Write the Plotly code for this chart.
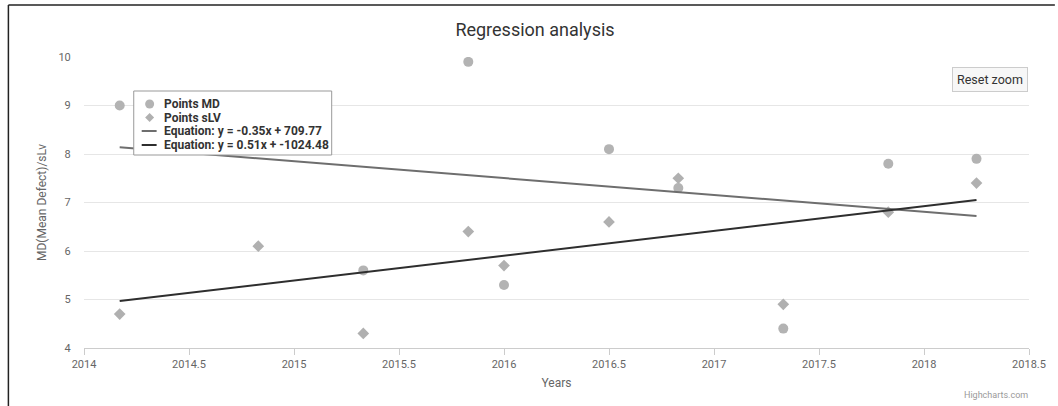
import plotly.graph_objects as go

# ---- data ----
md_years = [2014.17, 2015.33, 2015.83, 2016.0, 2016.5, 2016.83, 2017.33, 2017.83, 2018.25]
md_values = [9.0, 5.6, 9.9, 5.3, 8.1, 7.3, 4.4, 7.8, 7.9]

slv_years = [2014.17, 2014.83, 2015.33, 2015.83, 2016.0, 2016.5, 2016.83, 2017.33, 2017.83, 2018.25]
slv_values = [4.7, 6.1, 4.3, 6.4, 5.7, 6.6, 7.5, 4.9, 6.8, 7.4]

md_fit_years = [2014.17, 2018.25]
md_fit_values = [8.14, 6.72]
slv_fit_years = [2014.17, 2018.25]
slv_fit_values = [4.97, 7.05]

series_names = ["Points MD", "Points sLV",
                "Equation: y = -0.35x + 709.77", "Equation: y = 0.51x + -1024.48"]

x_ticks = [2014, 2014.5, 2015, 2015.5, 2016, 2016.5, 2017, 2017.5, 2018, 2018.5]
x_tick_labels = ["2014", "2014.5", "2015", "2015.5", "2016", "2016.5", "2017", "2017.5", "2018", "2018.5"]
y_ticks = [4, 5, 6, 7, 8, 9, 10]

FONT = "Roboto, 'Open Sans', sans-serif"
MD_COLOR = "#b3b3b3"
SLV_COLOR = "#b0b0b0"
MD_LINE = "#6e6e6e"
SLV_LINE = "#2e2e2e"

W, H = 1058, 406
ML, MR, MT, MB = 84, 24, 57, 58
PW, PH = W - ML - MR, H - MT - MB


def px_x(p):
    return (p - ML) / PW


def px_y(p):
    return (H - MB - p) / PH


fig = go.Figure()
fig.add_trace(go.Scatter(
    x=md_years, y=md_values, mode="markers", name=series_names[0],
    marker=dict(symbol="circle", size=10, color=MD_COLOR)))
fig.add_trace(go.Scatter(
    x=slv_years, y=slv_values, mode="markers", name=series_names[1],
    marker=dict(symbol="diamond", size=9, color=SLV_COLOR)))
fig.add_trace(go.Scatter(
    x=md_fit_years, y=md_fit_values, mode="lines", name=series_names[2],
    line=dict(color=MD_LINE, width=2)))
fig.add_trace(go.Scatter(
    x=slv_fit_years, y=slv_fit_values, mode="lines", name=series_names[3],
    line=dict(color=SLV_LINE, width=2)))

# ---- custom compact legend (Highcharts style) ----
leg_left, leg_right, leg_top, leg_bottom = 134, 333, 91, 155
item_y = [104, 117.5, 131, 145]
sym_x = 150
text_x = 162

shapes = [
    # screenshot frame
    dict(type="line", xref="paper", yref="paper", x0=px_x(8), x1=px_x(1060), y0=px_y(5), y1=px_y(5),
         line=dict(color="#222222", width=1.5)),
    dict(type="line", xref="paper", yref="paper", x0=px_x(8), x1=px_x(8), y0=px_y(5), y1=px_y(410),
         line=dict(color="#222222", width=1.5)),
    # legend box
    dict(type="rect", xref="paper", yref="paper", x0=px_x(leg_left), x1=px_x(leg_right),
         y0=px_y(leg_top), y1=px_y(leg_bottom), fillcolor="white",
         line=dict(color="#999999", width=1), layer="above"),
    # circle symbol
    dict(type="circle", xref="paper", yref="paper", xsizemode="pixel", ysizemode="pixel",
         xanchor=px_x(sym_x), yanchor=px_y(item_y[0]), x0=-4.5, x1=4.5, y0=-4.5, y1=4.5,
         fillcolor=MD_COLOR, line=dict(width=0), layer="above"),
    # diamond symbol
    dict(type="path", xref="paper", yref="paper", xsizemode="pixel", ysizemode="pixel",
         xanchor=px_x(sym_x), yanchor=px_y(item_y[1]),
         path="M 0 4.5 L 4.5 0 L 0 -4.5 L -4.5 0 Z",
         fillcolor=SLV_COLOR, line=dict(width=0), layer="above"),
    # line symbols
    dict(type="line", xref="paper", yref="paper", x0=px_x(142), x1=px_x(157),
         y0=px_y(item_y[2]), y1=px_y(item_y[2]), line=dict(color=MD_LINE, width=2), layer="above"),
    dict(type="line", xref="paper", yref="paper", x0=px_x(142), x1=px_x(157),
         y0=px_y(item_y[3]), y1=px_y(item_y[3]), line=dict(color=SLV_LINE, width=2), layer="above"),
]

annotations = [
    dict(text=name, xref="paper", yref="paper", x=px_x(text_x), y=px_y(yy),
         xanchor="left", yanchor="middle", showarrow=False,
         font=dict(family=FONT, size=12, color="#333333", weight="bold"))
    for name, yy in zip(series_names, item_y)
]
annotations += [
    dict(text="Reset zoom", xref="paper", yref="paper", x=px_x(995), y=px_y(79.5),
         xanchor="center", yanchor="middle", showarrow=False,
         font=dict(family=FONT, size=12.5, color="#333333"),
         bgcolor="#f7f7f7", bordercolor="#cccccc", borderwidth=1, borderpad=4),
    dict(text="Highcharts.com", xref="paper", yref="paper", x=px_x(1035), y=px_y(395),
         xanchor="right", yanchor="middle", showarrow=False,
         font=dict(family=FONT, size=9, color="#999999")),
]

fig.update_layout(
    width=W, height=H, autosize=False,
    margin=dict(l=ML, r=MR, t=MT, b=MB),
    paper_bgcolor="white", plot_bgcolor="white",
    font=dict(family=FONT, color="#666666", size=11),
    title=dict(text="Regression analysis", x=535 / W, xanchor="center", y=1 - 30 / H, yanchor="middle",
               xref="container", yref="container", font=dict(family=FONT, size=18, color="#333333")),
    xaxis=dict(range=[2014, 2018.5], tickvals=x_ticks, ticktext=x_tick_labels,
               showgrid=False, zeroline=False, showline=True, linecolor="#cccccc", linewidth=1,
               ticks="outside", ticklen=6, tickcolor="#cccccc",
               tickfont=dict(size=11, color="#666666"),
               title=dict(text="Years", standoff=8, font=dict(size=12, color="#666666"))),
    yaxis=dict(range=[4, 10], tickvals=y_ticks, showgrid=True, gridcolor="#e6e6e6", gridwidth=1,
               zeroline=False, showline=False, ticks="outside", ticklen=10,
               tickcolor="rgba(0,0,0,0)", tickfont=dict(size=11, color="#666666"),
               title=dict(text="MD(Mean Defect)/sLv", standoff=9, font=dict(size=12, color="#666666"))),
    showlegend=False,
    annotations=annotations,
    shapes=shapes,
)

fig.write_html("out.html", config={"displayModeBar": False},
               post_script="document.body.style.margin='0';")
